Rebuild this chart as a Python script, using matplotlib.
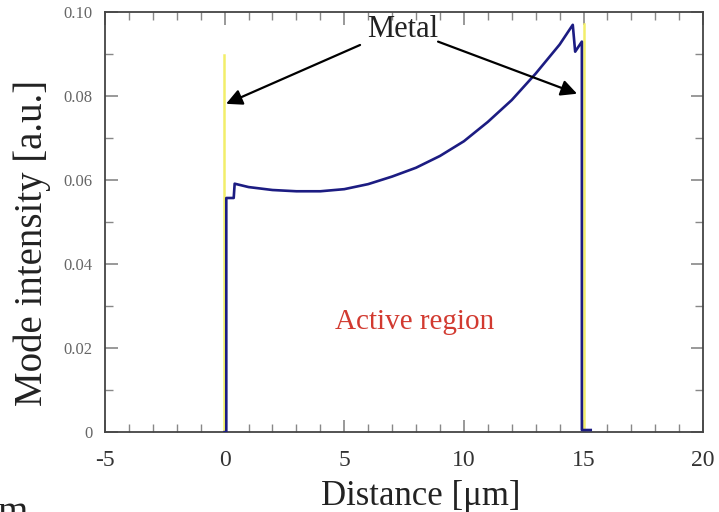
import matplotlib
matplotlib.use('Agg')
import matplotlib.pyplot as plt
from matplotlib.ticker import MultipleLocator, FixedLocator

plt.rcParams['font.family'] = ['Liberation Serif', 'DejaVu Serif']
plt.rcParams['axes.unicode_minus'] = False

# mode intensity profile across the cavity
distance = [0.0, 0.07, 0.07, 0.38, 0.42, 1.0, 2.0, 3.0, 4.0, 5.0, 6.0, 7.0,
            8.0, 9.0, 10.0, 11.0, 12.0, 13.0, 14.0, 14.55, 14.65, 14.93,
            14.93, 15.3]
intensity = [0.0, 0.0, 0.0557, 0.0557, 0.0591, 0.0583, 0.0576, 0.0573,
             0.0573, 0.0578, 0.0590, 0.0608, 0.0629, 0.0657, 0.0692, 0.0738,
             0.0790, 0.0853, 0.0922, 0.0969, 0.0905, 0.0929, 0.0005, 0.0005]

# metal walls
metal_x = [-0.03, 15.04]
metal_top = [0.0898, 0.097]

# arrows from label "Metal" to each wall
arrow_start = [(5.66, 0.0921), (8.92, 0.0929)]
arrow_tip = [(0.06, 0.0781), (14.73, 0.0805)]

yticks = [0, 0.02, 0.04, 0.06, 0.08, 0.10]
ytick_labels = ['0', '0.02', '0.04', '0.06', '0.08', '0.10']
xticks = [-5, 0, 5, 10, 15, 20]

fig = plt.figure(figsize=(7.19, 5.12), dpi=100)
ax = fig.add_axes([0.146, 0.156, 0.832, 0.821])

for xm, top in zip(metal_x, metal_top):
    ax.plot([xm, xm], [0, top], color='#f2ee6a', lw=1.8, zorder=2)

ax.plot(distance, intensity, color='#1c1c82', lw=1.9, zorder=3)

for (xs, ys), (xt, yt) in zip(arrow_start, arrow_tip):
    ax.annotate('', xy=(xt, yt), xytext=(xs, ys),
                arrowprops=dict(arrowstyle='-|>', mutation_scale=24,
                                lw=1.6, color='black', shrinkA=0, shrinkB=0))

ax.text(7.46, 0.0957, 'Metal', fontsize=22, ha='center', va='center',
        color='#222222')
ax.text(7.95, 0.0262, 'Active region', fontsize=21, ha='center',
        va='center', color='#d23a30')

ax.set_xlim(-5, 20)
ax.set_ylim(0, 0.10)
ax.xaxis.set_major_locator(FixedLocator(xticks))
ax.xaxis.set_minor_locator(MultipleLocator(1))
ax.set_yticks(yticks)
ax.set_yticklabels(ytick_labels)
ax.yaxis.set_minor_locator(MultipleLocator(0.01))

ax.tick_params(which='both', direction='in', top=True, right=True,
               color='#888888')
ax.tick_params(which='major', length=9, width=1.2)
ax.tick_params(which='minor', length=6, width=1.0)
ax.tick_params(axis='x', which='major', labelsize=17, pad=13,
               labelcolor='#333333')
ax.tick_params(axis='y', which='major', labelsize=12, pad=9,
               labelcolor='#666666')

for sp in ax.spines.values():
    sp.set_color('#444444')
    sp.set_linewidth(1.3)

ax.set_xlabel('Distance [μm]', fontsize=25, color='#222222')
ax.xaxis.set_label_coords(0.528, -0.115)
ax.set_ylabel('Mode intensity [a.u.]', fontsize=28, color='#222222')
ax.yaxis.set_label_coords(-0.09, 0.45)

fig.text(-0.004, -0.022, 'm', fontsize=28, color='#222222')

fig.savefig('out.png', dpi=100)
